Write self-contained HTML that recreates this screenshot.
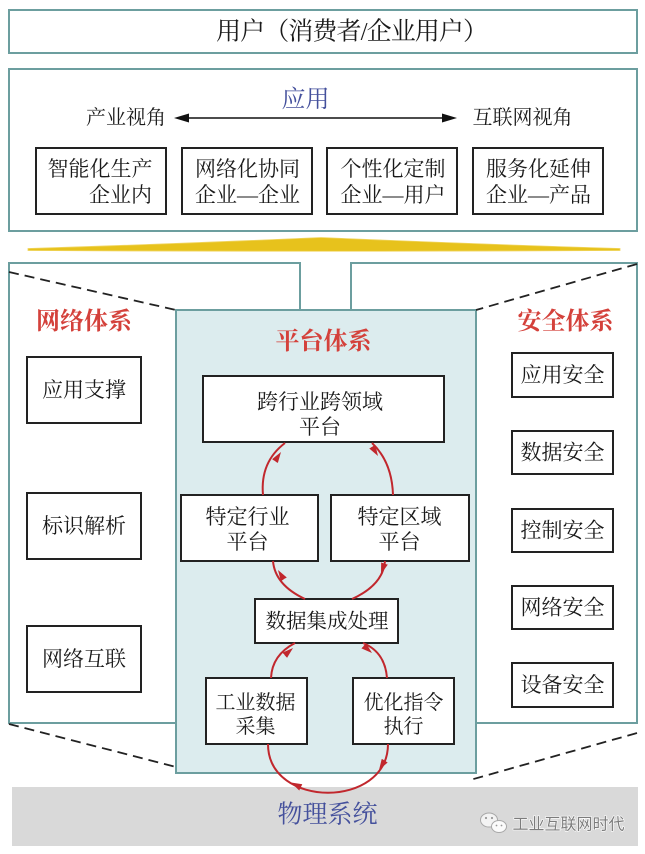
<!DOCTYPE html>
<html>
<head>
<meta charset="utf-8">
<style>
  html,body{margin:0;padding:0;background:#fff;}
  svg{display:block;}
  .t{font-family:"Liberation Serif","Noto Serif CJK SC",serif;fill:#1a1a1a;}
</style>
</head>
<body>
<svg width="645" height="854" viewBox="0 0 645 854" xmlns="http://www.w3.org/2000/svg">
  <defs>
    <marker id="ah" markerUnits="userSpaceOnUse" markerWidth="12" markerHeight="8" refX="11" refY="3.5" orient="auto">
      <path d="M0,0 L11,3.5 L0,7 Z" fill="#c1272d"/>
    </marker>
  </defs>

  <rect x="0" y="0" width="645" height="854" fill="#ffffff"/>

  <!-- Top user box -->
  <rect x="9" y="10" width="628" height="43" fill="#fff" stroke="#6c9e9f" stroke-width="2"/>
  <text class="t" x="216" y="32" font-size="25" dominant-baseline="central" textLength="272" lengthAdjust="spacing">用户（消费者/企业用户）</text>

  <!-- Application box -->
  <rect x="9" y="69" width="628" height="162" fill="#fff" stroke="#6c9e9f" stroke-width="2"/>
  <text class="t" x="305.5" y="100" font-size="24" text-anchor="middle" dominant-baseline="central" style="fill:#44509c">应用</text>
  <text class="t" x="126" y="118" font-size="20" text-anchor="middle" dominant-baseline="central">产业视角</text>
  <text class="t" x="522.5" y="118" font-size="20" text-anchor="middle" dominant-baseline="central">互联网视角</text>
  <line x1="184" y1="118" x2="447" y2="118" stroke="#111" stroke-width="1.6"/>
  <polygon points="174,118 189,113.5 189,122.5" fill="#111"/>
  <polygon points="457,118 442,113.5 442,122.5" fill="#111"/>

  <rect x="36" y="148" width="130" height="66" fill="#fff" stroke="#222" stroke-width="2"/>
  <text class="t" x="100" y="169" font-size="21" text-anchor="middle" dominant-baseline="central">智能化生产</text>
  <text class="t" x="120.5" y="195" font-size="21" text-anchor="middle" dominant-baseline="central">企业内</text>

  <rect x="182" y="148" width="130" height="66" fill="#fff" stroke="#222" stroke-width="2"/>
  <text class="t" x="247.5" y="169" font-size="21" text-anchor="middle" dominant-baseline="central">网络化协同</text>
  <text class="t" x="247.5" y="195" font-size="21" text-anchor="middle" dominant-baseline="central">企业—企业</text>

  <rect x="327" y="148" width="130" height="66" fill="#fff" stroke="#222" stroke-width="2"/>
  <text class="t" x="393" y="169" font-size="21" text-anchor="middle" dominant-baseline="central">个性化定制</text>
  <text class="t" x="393" y="195" font-size="21" text-anchor="middle" dominant-baseline="central">企业—用户</text>

  <rect x="473" y="148" width="130" height="66" fill="#fff" stroke="#222" stroke-width="2"/>
  <text class="t" x="538.5" y="169" font-size="21" text-anchor="middle" dominant-baseline="central">服务化延伸</text>
  <text class="t" x="538.5" y="195" font-size="21" text-anchor="middle" dominant-baseline="central">企业—产品</text>

  <!-- Yellow band -->
  <path d="M28,248.5 Q175,244 321,237.5 Q470,244 620,248.5 L620,250.5 Q321,252 28,250.5 Z" fill="#e7c21c" stroke="#f0d560" stroke-width="0.8"/>

  <!-- Left and right panels -->
  <rect x="9" y="263" width="291" height="460" fill="#fff" stroke="#6c9e9f" stroke-width="2"/>
  <rect x="351" y="263" width="286" height="460" fill="#fff" stroke="#6c9e9f" stroke-width="2"/>

  <!-- Gray physical system bar -->
  <rect x="12" y="787" width="626" height="59" fill="#d9d9d9"/>

  <!-- Center platform -->
  <rect x="176" y="310" width="300" height="463" fill="#dcecee" stroke="#6c9e9f" stroke-width="2"/>

  <!-- Dashed lines -->
  <g stroke="#222" stroke-width="1.8" stroke-dasharray="10 6" fill="none">
    <line x1="9" y1="272" x2="176" y2="310"/>
    <line x1="637" y1="264" x2="476" y2="310"/>
    <line x1="9" y1="724" x2="176" y2="767"/>
    <line x1="637" y1="733" x2="470" y2="780"/>
  </g>

  <!-- Titles -->
  <text class="t" x="84" y="322" font-size="24" font-weight="bold" text-anchor="middle" dominant-baseline="central" style="fill:#d4413b">网络体系</text>
  <text class="t" x="323.5" y="342" font-size="24" font-weight="bold" text-anchor="middle" dominant-baseline="central" style="fill:#d4413b">平台体系</text>
  <text class="t" x="565.5" y="322" font-size="24" font-weight="bold" text-anchor="middle" dominant-baseline="central" style="fill:#d4413b">安全体系</text>

  <!-- Network boxes -->
  <rect x="27" y="357" width="114" height="66" fill="#fff" stroke="#222" stroke-width="2"/>
  <text class="t" x="84" y="390" font-size="21" text-anchor="middle" dominant-baseline="central">应用支撑</text>
  <rect x="27" y="493" width="114" height="66" fill="#fff" stroke="#222" stroke-width="2"/>
  <text class="t" x="84" y="526" font-size="21" text-anchor="middle" dominant-baseline="central">标识解析</text>
  <rect x="27" y="626" width="114" height="66" fill="#fff" stroke="#222" stroke-width="2"/>
  <text class="t" x="84" y="659" font-size="21" text-anchor="middle" dominant-baseline="central">网络互联</text>

  <!-- Security boxes -->
  <rect x="512" y="353" width="101" height="44" fill="#fff" stroke="#222" stroke-width="2"/>
  <text class="t" x="562.5" y="375" font-size="21" text-anchor="middle" dominant-baseline="central">应用安全</text>
  <rect x="512" y="431" width="101" height="43" fill="#fff" stroke="#222" stroke-width="2"/>
  <text class="t" x="562.5" y="452.5" font-size="21" text-anchor="middle" dominant-baseline="central">数据安全</text>
  <rect x="512" y="509" width="101" height="43" fill="#fff" stroke="#222" stroke-width="2"/>
  <text class="t" x="562.5" y="530.5" font-size="21" text-anchor="middle" dominant-baseline="central">控制安全</text>
  <rect x="512" y="586" width="101" height="43" fill="#fff" stroke="#222" stroke-width="2"/>
  <text class="t" x="562.5" y="607.5" font-size="21" text-anchor="middle" dominant-baseline="central">网络安全</text>
  <rect x="512" y="663" width="101" height="44" fill="#fff" stroke="#222" stroke-width="2"/>
  <text class="t" x="562.5" y="685" font-size="21" text-anchor="middle" dominant-baseline="central">设备安全</text>

  <!-- Platform boxes -->
  <rect x="203" y="376" width="241" height="66" fill="#fff" stroke="#222" stroke-width="2"/>
  <text class="t" x="320" y="402" font-size="21" text-anchor="middle" dominant-baseline="central">跨行业跨领域</text>
  <text class="t" x="320" y="427" font-size="21" text-anchor="middle" dominant-baseline="central">平台</text>

  <rect x="181" y="495" width="137" height="66" fill="#fff" stroke="#222" stroke-width="2"/>
  <text class="t" x="247.5" y="517" font-size="21" text-anchor="middle" dominant-baseline="central">特定行业</text>
  <text class="t" x="247.5" y="542" font-size="21" text-anchor="middle" dominant-baseline="central">平台</text>

  <rect x="331" y="495" width="138" height="66" fill="#fff" stroke="#222" stroke-width="2"/>
  <text class="t" x="399.5" y="517" font-size="21" text-anchor="middle" dominant-baseline="central">特定区域</text>
  <text class="t" x="399.5" y="542" font-size="21" text-anchor="middle" dominant-baseline="central">平台</text>

  <rect x="255" y="599" width="143" height="44" fill="#fff" stroke="#222" stroke-width="2"/>
  <text class="t" x="327" y="622" font-size="20.5" text-anchor="middle" dominant-baseline="central">数据集成处理</text>

  <rect x="206" y="678" width="101" height="66" fill="#fff" stroke="#222" stroke-width="2"/>
  <text class="t" x="255.5" y="703" font-size="20" text-anchor="middle" dominant-baseline="central">工业数据</text>
  <text class="t" x="255.5" y="727" font-size="20" text-anchor="middle" dominant-baseline="central">采集</text>

  <rect x="353" y="678" width="101" height="66" fill="#fff" stroke="#222" stroke-width="2"/>
  <text class="t" x="403.5" y="703" font-size="20" text-anchor="middle" dominant-baseline="central">优化指令</text>
  <text class="t" x="403.5" y="727" font-size="20" text-anchor="middle" dominant-baseline="central">执行</text>

  <!-- Red cycle arcs -->
  <g stroke="#c1272d" stroke-width="2" fill="none">
    <path d="M263,495 Q260,462 285,443"/>
    <path d="M372,443 Q392,462 393,495"/>
    <path d="M305,599 Q275,585 273,561"/>
    <path d="M385,561 Q383,585 352,599"/>
    <path d="M271,678 Q272,655 295,643"/>
    <path d="M363,643 Q385,652 387,678"/>
    <path d="M388,744 C388,809 268,809 268,744"/>
  </g>
  <!-- Arrowheads -->
  <g stroke="none" fill="none">
    <path d="M275,461 L281,452" marker-end="url(#ah)"/>
    <path d="M372.5,447 L378,456" marker-end="url(#ah)"/>
    <path d="M283,578 L278,570" marker-end="url(#ah)"/>
    <path d="M384,565 L381,574" marker-end="url(#ah)"/>
    <path d="M285,655 L293,648" marker-end="url(#ah)"/>
    <path d="M364,646 L372,653" marker-end="url(#ah)"/>
    <path d="M383,763.5 L379,770" marker-end="url(#ah)"/>
    <path d="M298,786 L291,782.5" marker-end="url(#ah)"/>
  </g>

  <!-- Physical system label -->
  <text class="t" x="327.5" y="815" font-size="25" text-anchor="middle" dominant-baseline="central" style="fill:#44509c">物理系统</text>

  <!-- Watermark -->
  <ellipse cx="489" cy="820" rx="8.5" ry="7" fill="#f3f3f3" stroke="#a8a8a8" stroke-width="1"/>
  <ellipse cx="499" cy="826.5" rx="7.5" ry="6" fill="#fbfbfb" stroke="#a8a8a8" stroke-width="1"/>
  <circle cx="486" cy="818" r="1.1" fill="#999"/>
  <circle cx="492" cy="818" r="1.1" fill="#999"/>
  <circle cx="496.5" cy="825.5" r="0.9" fill="#999"/>
  <circle cx="501.5" cy="825.5" r="0.9" fill="#999"/>
  <text x="568.5" y="825" font-size="16" text-anchor="middle" dominant-baseline="central" font-family="'Liberation Sans','Noto Sans CJK SC',sans-serif" fill="#7c7c7c" stroke="#ffffff" stroke-width="1.2" paint-order="stroke">工业互联网时代</text>
</svg>
</body>
</html>
